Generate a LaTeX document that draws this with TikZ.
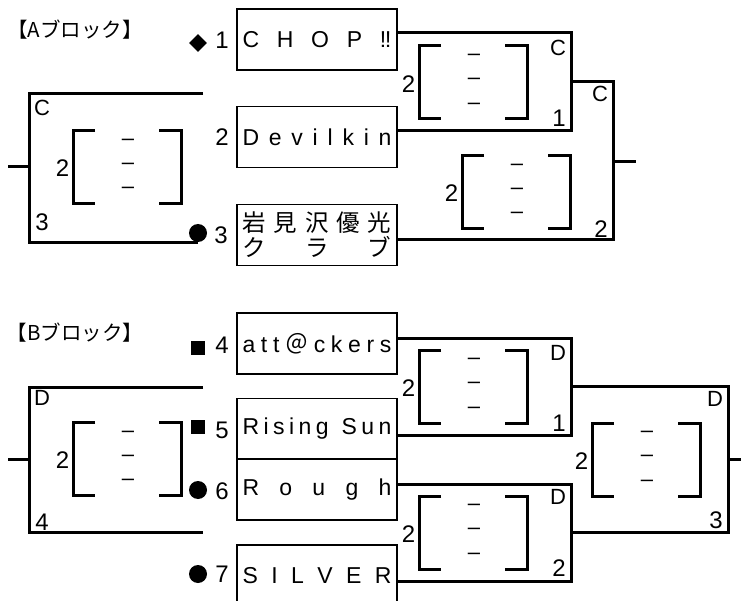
\documentclass[tikz,border=0pt]{standalone}
\usepackage{fontspec}
\setmainfont{Noto Sans CJK JP}
\newfontfamily\latf{Liberation Sans}
\usetikzlibrary{shapes.geometric}
\tikzset{
  bline/.style={line width=3pt},
  namebox/.style={draw, line width=1.1pt, minimum width=160pt, minimum height=61pt, inner sep=0pt,
    font=\latf\fontsize{23pt}{26pt}\selectfont},
  cjkbox/.style={namebox, align=center, font=\fontsize{23.5pt}{25pt}\selectfont},
  lab/.style={font=\latf\fontsize{22pt}{24pt}\selectfont, inner sep=0pt},
  num/.style={font=\latf\fontsize{24pt}{26pt}\selectfont, inner sep=0pt},
  dashtxt/.style={font=\latf\fontsize{22pt}{24pt}\selectfont, inner sep=0pt},
  titletxt/.style={font=\fontsize{20.5pt}{22pt}\selectfont, inner sep=0pt},
  dmark/.style={diamond, fill, inner sep=0pt, minimum width=18pt, minimum height=18pt},
  cmark/.style={circle, fill, inner sep=0pt, minimum size=18pt},
  smark/.style={rectangle, fill, inner sep=0pt, minimum size=14pt},
  score/.pic={
    \draw[bline] (22,-36.5) -- (0,-36.5) -- (0,36.5) -- (22,36.5);
    \draw[bline] (86,-36.5) -- (108,-36.5) -- (108,36.5) -- (86,36.5);
    \node[num] (-two) at (-10.5,1.5) {2};
    \node[dashtxt] (-d1) at (55,-25) {–};
    \node[dashtxt] (-d2) at (55,-1) {–};
    \node[dashtxt] (-d3) at (55,23.5) {–};
  }
}
\begin{document}
\begin{tikzpicture}[x=1pt,y=-1pt]
\useasboundingbox (0,0) rectangle (741,601);
\clip (0,0) rectangle (741,601);

% ---------- A block ----------
\node[titletxt] (titleA) at (75,30) {【Aブロック】};

\node[namebox] (t1) at (317,39.5) {\makebox[149pt][s]{C\hfil H\hfil O\hfil P\hfil ‼}};
\node[namebox] (t2) at (317,137) {\makebox[149pt][s]{D\hfil e\hfil v\hfil i\hfil l\hfil k\hfil i\hfil n}};
\node[cjkbox] (t3) at (317,235) {\makebox[149pt][s]{岩\hfil 見\hfil 沢\hfil 優\hfil 光}\\\makebox[149pt][s]{ク\hfil ラ\hfil ブ}};

\node[dmark] (mk1) at (198,43) {};
\node[cmark] (mk3) at (198,233) {};
\node[num] (n1) at (222,40) {1};
\node[num] (n2) at (222,137) {2};
\node[num] (n3) at (221,235) {3};

\coordinate (am1r) at (571,82);
\coordinate (asr) at (613,161.5);
\coordinate (asout) at (636,161.5);
\coordinate (atop) at (203,94);
\coordinate (aL) at (29,167);
\coordinate (aout) at (8,167);

\draw[bline] ([yshift=6.5pt]t1.east) -| (am1r) |- ([yshift=6pt]t2.east);
\draw[bline] (am1r) -| (asr) |- ([yshift=-5pt]t3.east);
\draw[bline] (asr) -- (asout);
\draw[bline] (atop) -| (aL) |- (mk3.south);
\draw[bline] (aL) -- (aout);

\pic (sa0) at (73,167) {score};
\pic (sa1) at (419,82.5) {score};
\pic (sa2) at (462,192) {score};

\node[lab] (ca0t) at (42,108) {C};
\node[num] (ca0b) at (42,222) {3};
\node[lab] (ca1t) at (558,48) {C};
\node[num] (ca1b) at (559,118) {1};
\node[lab] (ca2t) at (600,94) {C};
\node[num] (ca2b) at (601,229) {2};

% ---------- B block ----------
\node[titletxt] (titleB) at (75,333) {【Bブロック】};

\node[namebox] (t4) at (317,343.5) {\makebox[149pt][s]{a\hfil t\hfil t\hfil {\fontspec{Noto Sans CJK JP}＠}\hfil c\hfil k\hfil e\hfil r\hfil s}};
\node[namebox] (t5) at (317,429) {\makebox[149pt][s]{R\hfil i\hfil s\hfil i\hfil n\hfil g\hfil\hspace{4pt}\hfil S\hfil u\hfil n}};
\node[namebox] (t6) at (317,489.5) {\makebox[149pt][s]{R\hfil o\hfil u\hfil g\hfil h}};
\node[namebox] (t7) at (317,575.5) {\makebox[149pt][s]{S\hfil I\hfil L\hfil V\hfil E\hfil R}};

\node[smark] (mk4) at (198,348) {};
\node[smark] (mk5) at (198,427) {};
\node[cmark] (mk6) at (198,490) {};
\node[cmark] (mk7) at (198,574) {};
\node[num] (n4) at (222,345) {4};
\node[num] (n5) at (222,430) {5};
\node[num] (n6) at (222,491) {6};
\node[num] (n7) at (222,574) {7};

\coordinate (bm1r) at (571,386.5);
\coordinate (bm2r) at (571,532.5);
\coordinate (bsr) at (728,459.5);
\coordinate (bsout) at (741,459.5);
\coordinate (btop) at (203,387);
\coordinate (bL) at (29,459.5);
\coordinate (bbot) at (203,532);
\coordinate (bout) at (8,459.5);

\draw[bline] ([yshift=5.5pt]t4.east) -| (bm1r) |- ([yshift=-6pt]t5.east);
\draw[bline] ([yshift=5.5pt]t6.east) -| (bm2r) |- ([yshift=-5.5pt]t7.east);
\draw[bline] (bm1r) -| (bsr) |- (bm2r);
\draw[bline] (bsr) -- (bsout);
\draw[bline] (btop) -| (bL) |- (bbot);
\draw[bline] (bL) -- (bout);

\pic (sb0) at (73,459) {score};
\pic (sb1) at (419,386.5) {score};
\pic (sb2) at (419,532.5) {score};
\pic (sb3) at (592,459.5) {score};

\node[lab] (cb0t) at (42,398) {D};
\node[num] (cb0b) at (42,522) {4};
\node[lab] (cb1t) at (558,353) {D};
\node[num] (cb1b) at (559,423) {1};
\node[lab] (cb2t) at (558,497) {D};
\node[num] (cb2b) at (559,568) {2};
\node[lab] (cb3t) at (715,399) {D};
\node[num] (cb3b) at (716,520) {3};
\end{tikzpicture}
\end{document}
